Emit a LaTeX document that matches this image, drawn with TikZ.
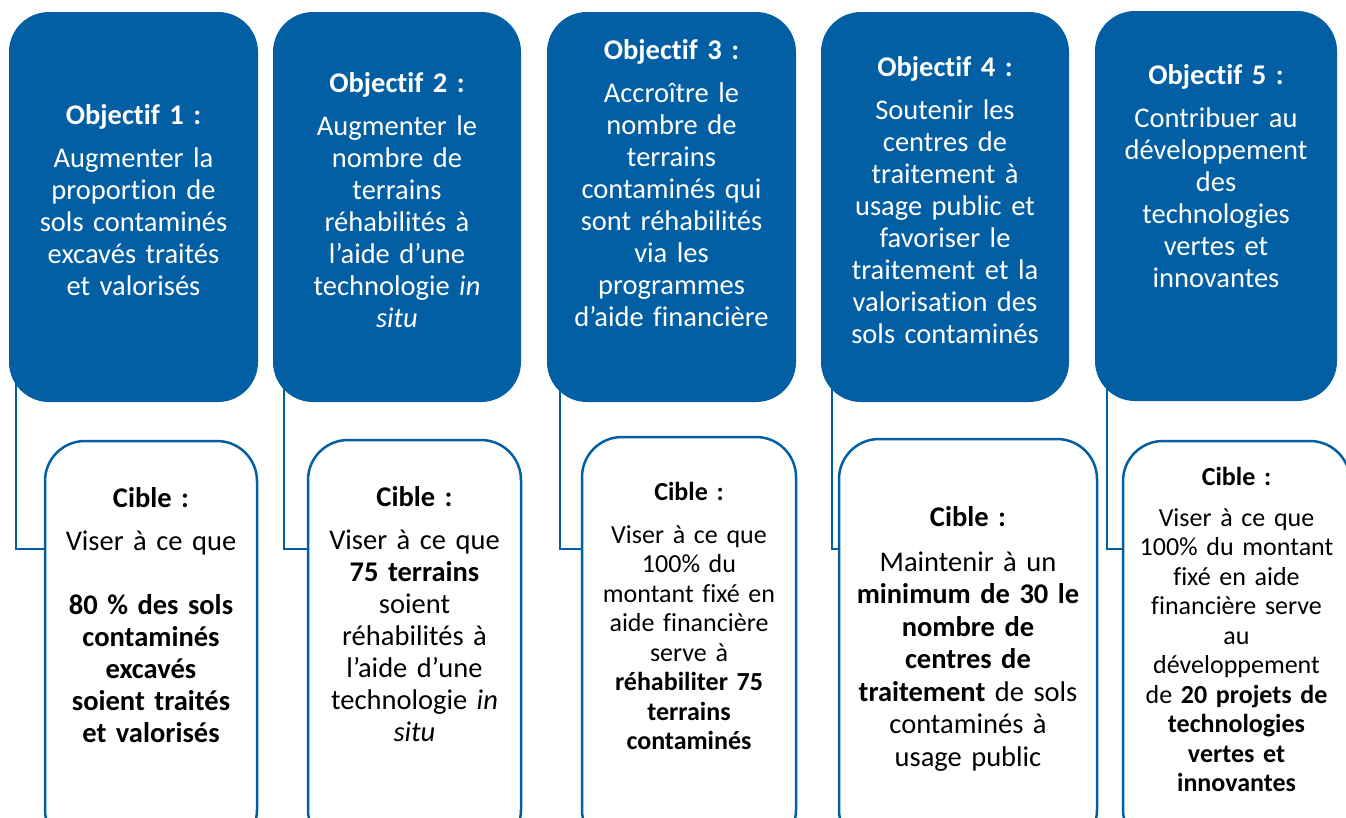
\documentclass[tikz,border=0pt]{standalone}
\usepackage{fontspec}
\setmainfont{Carlito}[Ligatures=CommonOff]
\definecolor{objblue}{HTML}{035FA3}
\pgfdeclarelayer{bg}
\pgfsetlayers{bg,main}
\begin{document}
\begin{tikzpicture}[x=1pt,y=-1pt,
  objbox/.style={fill=objblue, rounded corners=40pt, inner sep=0pt, outer sep=0pt},
  tgtbox/.style={draw=objblue, line width=2.5pt, fill=white, rounded corners=40pt, inner sep=0pt, outer sep=0pt},
  conn/.style={draw=objblue, line width=2pt},
  objtxt/.style={text=white, anchor=base, align=center, text width=240pt, inner sep=0pt, font=\fontsize{28.5}{32}\selectfont},
  tgttxt/.style={text=black, anchor=base, align=center, text width=250pt, inner sep=0pt},
  bigtxt/.style={tgttxt, font=\fontsize{28.5}{32}\selectfont},
  smalltxt/.style={tgttxt, font=\fontsize{26}{29.5}\selectfont},
]
\useasboundingbox (0,0) rectangle (1346,817);
\clip (0,0) rectangle (1346,817);

% objective boxes
\node[objbox, minimum width=249pt, minimum height=390pt] (o1) at (133.5,207) {};
\node[objbox, minimum width=248pt, minimum height=390pt] (o2) at (397,207) {};
\node[objbox, minimum width=249pt, minimum height=390pt] (o3) at (671.5,207) {};
\node[objbox, minimum width=248pt, minimum height=390pt] (o4) at (945,207) {};
\node[objbox, minimum width=242pt, minimum height=390pt] (o5) at (1216,206) {};

% target boxes
\node[tgtbox, minimum width=212pt, minimum height=409pt] (c1) at (151,645.5) {};
\node[tgtbox, minimum width=213pt, minimum height=410pt] (c2) at (414.5,645) {};
\node[tgtbox, minimum width=214pt, minimum height=413pt] (c3) at (689,643.5) {};
\node[tgtbox, minimum width=258pt, minimum height=411pt] (c4) at (968,644.5) {};
\node[tgtbox, minimum width=227pt, minimum height=409pt] (c5) at (1236.5,645.5) {};

% connectors
\coordinate (k) at (0,549);
\begin{pgfonlayer}{bg}
\draw[conn] ([xshift=7pt,yshift=20pt]o1.south west) |- (c1.west |- k);
\draw[conn] ([xshift=11pt,yshift=20pt]o2.south west) |- (c2.west |- k);
\draw[conn] ([xshift=13pt,yshift=20pt]o3.south west) |- (c3.west |- k);
\draw[conn] ([xshift=11pt,yshift=20pt]o4.south west) |- (c4.west |- k);
\draw[conn] ([xshift=12pt,yshift=20pt]o5.south west) |- (c5.west |- k);
\end{pgfonlayer}

% objective texts
\node[objtxt] (t1) at (133.5,124) {\textbf{Objectif 1 :}\\[11pt]Augmenter la\\proportion de\\sols contaminés\\excavés traités\\et valorisés};
\node[objtxt] (t2) at (397,92) {\textbf{Objectif 2 :}\\[11pt]Augmenter le\\nombre de\\terrains\\réhabilités à\\l’aide d’une\\technologie \textit{in}\\\textit{situ}};
\node[objtxt] (t3) at (671.5,59) {\textbf{Objectif 3 :}\\[11pt]Accroître le\\nombre de\\terrains\\contaminés qui\\sont réhabilités\\via les\\programmes\\d’aide financière};
\node[objtxt] (t4) at (945,76) {\textbf{Objectif 4 :}\\[11pt]Soutenir les\\centres de\\traitement à\\usage public et\\favoriser le\\traitement et la\\valorisation des\\sols contaminés};
\node[objtxt] (t5) at (1216,84) {\textbf{Objectif 5 :}\\[11pt]Contribuer au\\développement\\des\\technologies\\vertes et\\innovantes};

% target texts
\node[bigtxt] (u1) at (151,507) {\textbf{Cible :}\\[11pt]Viser à ce que\\[32pt]\textbf{80~\% des sols}\\\textbf{contaminés}\\\textbf{excavés}\\\textbf{soient traités}\\\textbf{et valorisés}};
\node[bigtxt] (u2) at (414.5,506) {\textbf{Cible :}\\[11pt]Viser à ce que\\\textbf{75 terrains}\\soient\\réhabilités à\\l’aide d’une\\technologie \textit{in}\\\textit{situ}};
\node[smalltxt] (u3) at (689,500) {\textbf{Cible :}\\[13.5pt]Viser à ce que\\100\% du\\montant fixé en\\aide financière\\serve à\\\textbf{réhabiliter 75}\\\textbf{terrains}\\\textbf{contaminés}};
\node[tgttxt, font=\fontsize{28.5}{32.5}\selectfont] (u4) at (968,526) {\textbf{Cible :}\\[12.5pt]Maintenir à un\\\textbf{minimum de 30 le}\\\textbf{nombre de}\\\textbf{centres de}\\\textbf{traitement} de sols\\contaminés à\\usage public};
\node[smalltxt] (u5) at (1236.5,485) {\textbf{Cible :}\\[11.5pt]Viser à ce que\\100\% du montant\\fixé en aide\\financière serve\\au\\développement\\de \textbf{20 projets de}\\\textbf{technologies}\\\textbf{vertes et}\\\textbf{innovantes}};
\end{tikzpicture}
\end{document}
